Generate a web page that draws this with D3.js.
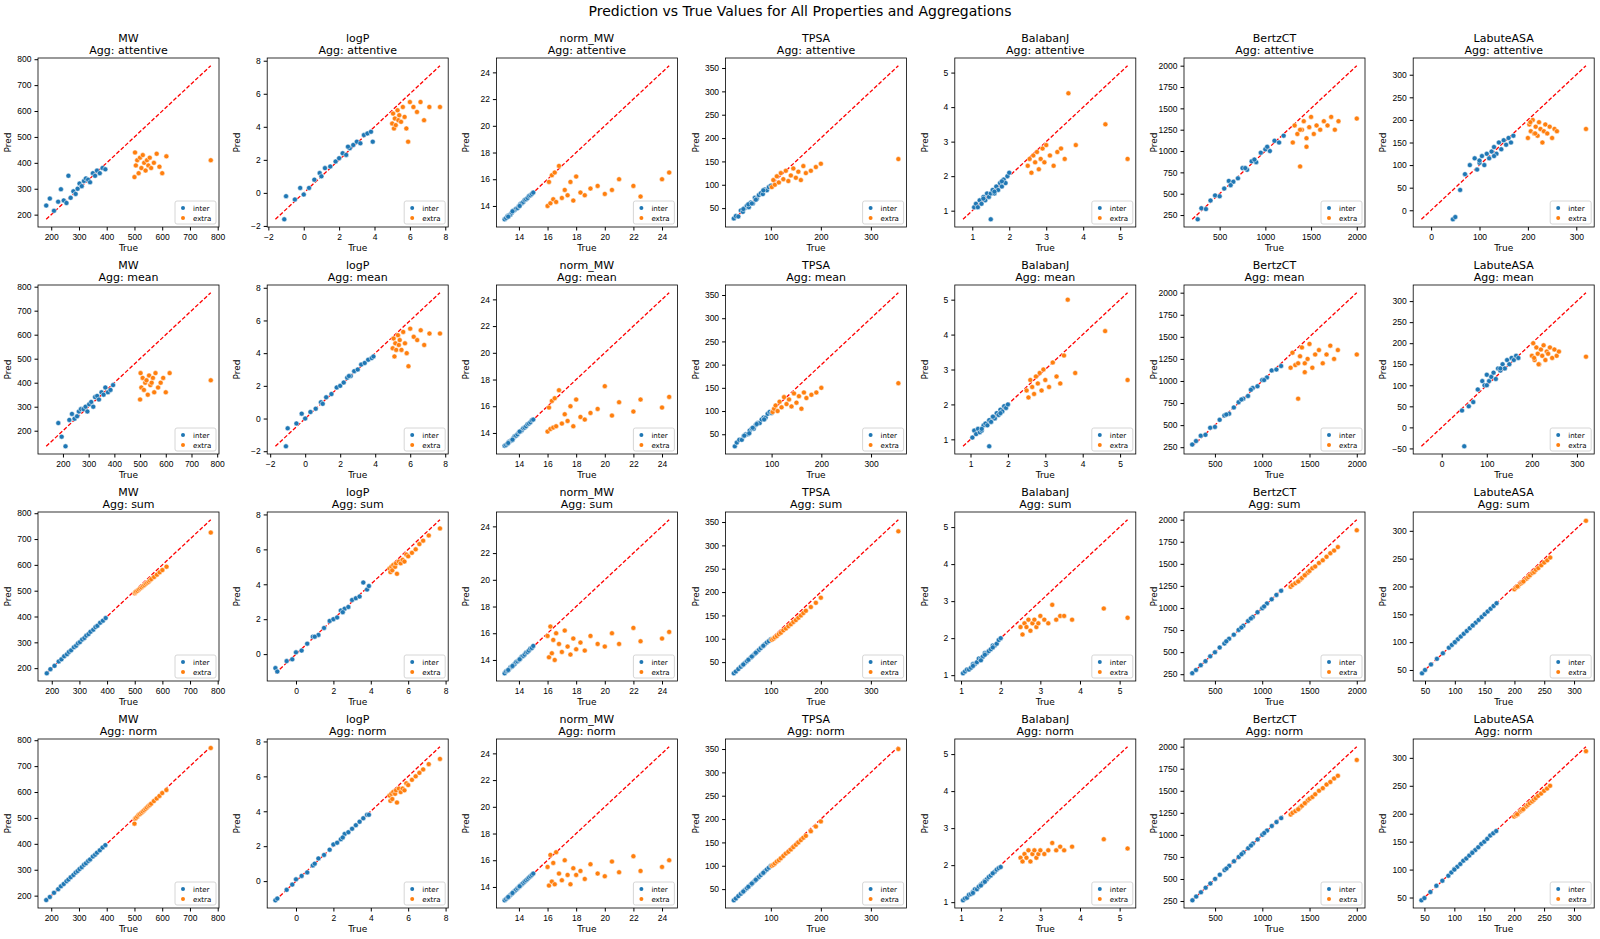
<!DOCTYPE html>
<html><head><meta charset="utf-8">
<script src="https://cdn.jsdelivr.net/npm/d3@7"></script>
<style>body{margin:0;background:#fff;font-family:"DejaVu Sans",sans-serif}</style>
</head><body><svg id="c" width="1600" height="939"></svg>
<script>
// properties and aggregations (columns / rows)
var properties = ["MW","logP","norm_MW","TPSA","BalabanJ","BertzCT","LabuteASA"];
var aggs = ["attentive","mean","sum","norm"];
var yTickSteps = [100,2,2,50,1,250,50];
var xTickSteps = [[100,100,100,100],[2,2,2,2],[2,2,2,2],[100,100,100,100],[1,1,1,1],[500,500,500,500],[100,100,50,50]];

// MW
var mwInterTrue = [182,195,210,225,235,245,255,262,270,280,288,295,302,310,318,325,333,340,350,358,365,375,385,395];
var mwExtraTrue = [500,502,505,510,515,520,525,530,535,540,545,550,555,560,570,580,590,600,615,775];
var mwAttInter = [235,262,215,250,298,255,245,350,265,290,280,300,320,310,330,340,335,325,360,350,370,360,380,375];
var mwAttExtra = [345,440,390,410,360,420,380,430,400,370,410,390,420,380,400,435,385,360,425,410];
var mwMeanInter = [232,175,135,245,270,250,260,280,290,290,300,280,310,320,300,340,345,330,360,350,380,360,370,390];
var mwMeanExtra = [330,440,380,420,370,400,410,350,430,390,400,420,360,440,380,400,420,360,440,410];
var mwSumInter = [180,196,209,226,234,246,254,263,269,281,287,296,301,311,317,326,332,341,349,359,364,376,384,394];
var mwSumExtra = [490,494,497,500,505,509,513,518,522,527,531,535,540,545,553,562,571,580,593,725];
var mwNormInter = [183,195,211,225,236,245,256,262,271,280,289,295,303,310,319,325,334,340,351,358,366,375,386,395];
var mwNormExtra = [478,497,500,505,512,515,520,525,530,535,540,546,550,555,565,575,585,596,608,770];

// logP
var lpInterTrue = [-1.1,-1.0,-0.5,-0.2,0,0.3,0.6,0.9,1.2,1.5,1.8,2.0,2.2,2.4,2.6,2.8,3.0,3.2,3.4,3.6,3.8,3.9,2.5,1.0];
var lpExtraTrue = [5.0,5.05,5.1,5.15,5.2,5.3,5.35,5.4,5.5,5.6,5.7,5.8,5.9,6.0,6.2,6.4,6.6,6.8,7.1,7.7];
var lpAttInter = [-1.6,-0.2,-0.4,0.3,-0.1,0.3,0.8,1.2,1.5,1.6,1.9,2.1,2.4,2.3,2.7,2.9,3.1,3.0,3.5,3.6,3.7,3.1,2.8,1.0];
var lpAttExtra = [4.2,4.8,3.9,4.5,4.1,5.0,4.4,4.7,4.3,5.2,4.6,3.9,3.1,5.5,5.2,4.9,5.5,4.4,5.2,5.2];
var lpMeanInter = [-1.7,-0.6,-0.3,0.3,0,0.4,0.6,1.0,1.3,1.5,1.9,2.0,2.2,2.5,2.6,2.9,3.0,3.3,3.4,3.6,3.7,3.8,2.6,0.9];
var lpMeanExtra = [4.3,4.9,3.8,4.6,4.2,5.1,4.5,4.8,4.2,5.3,4.6,4.0,3.2,5.5,5.0,4.8,5.4,4.5,5.2,5.2];
var lpSumInter = [-0.8,-1.0,-0.4,-0.3,0.1,0.2,0.6,1.0,1.1,1.5,1.9,2.0,2.1,2.5,2.6,2.7,3.1,3.2,3.3,4.1,3.7,3.9,2.4,1.0];
var lpSumExtra = [4.9,4.7,5.0,4.8,5.1,5.0,5.2,4.6,5.3,5.2,5.4,5.3,5.7,5.6,5.8,6.0,6.3,6.5,6.8,7.2];
var lpNormInter = [-1.1,-1.0,-0.5,-0.2,0.1,0.3,0.5,0.9,1.3,1.5,1.8,2.1,2.2,2.4,2.7,2.8,3.0,3.2,3.4,3.6,3.8,3.8,2.5,1.0];
var lpNormExtra = [4.9,4.6,5.0,4.7,5.1,5.0,5.2,4.5,5.3,5.1,5.3,5.2,5.6,5.5,5.8,6.0,6.2,6.4,6.7,7.0];

// norm_MW
var nmInterTrue = [13.0,13.1,13.2,13.3,13.4,13.5,13.6,13.7,13.8,13.9,14.0,14.1,14.2,14.3,14.4,14.5,14.6,14.7,14.8,14.9,15.0,13.25,13.55,14.05];
var nmExtraTrue = [16.0,16.1,16.2,16.3,16.4,16.5,16.6,16.8,17.0,17.2,17.4,17.6,17.8,18.0,18.3,18.6,19.0,19.5,20.0,20.5,21.0,22.0,22.5,24.0,24.5];
var nmAttInter = [13.0,13.1,13.25,13.3,13.35,13.5,13.65,13.7,13.8,13.85,14.0,14.15,14.2,14.3,14.45,14.5,14.6,14.75,14.8,14.9,15.0,13.2,13.6,14.0];
var nmAttExtra = [14.0,15.8,14.2,16.3,14.5,16.5,14.3,17.0,14.6,15.2,14.8,15.8,14.4,16.2,15.0,14.8,15.3,15.5,14.9,15.2,16.0,15.5,14.7,16.0,16.5];
var nmMeanInter = [13.05,13.1,13.2,13.35,13.4,13.45,13.6,13.75,13.8,13.9,14.05,14.1,14.2,14.35,14.4,14.5,14.65,14.7,14.8,14.95,15.0,13.25,13.5,14.1];
var nmMeanExtra = [14.1,15.9,14.3,16.4,14.4,16.6,14.5,17.2,14.7,15.4,14.9,16.0,14.5,16.5,15.2,15.0,15.5,15.8,17.5,15.3,16.3,15.6,16.5,15.9,16.7];
var nmSumInter = [13.0,13.15,13.2,13.3,13.45,13.5,13.6,13.7,13.85,13.9,14.0,14.1,14.25,14.3,14.4,14.55,14.6,14.7,14.85,14.9,15.05,13.25,13.55,14.05];
var nmSumExtra = [15.8,14.2,16.5,14.5,15.5,14.0,16.0,15.2,14.6,16.2,15.0,14.4,15.6,14.8,15.3,14.7,15.8,15.2,15.0,16.0,15.2,16.4,15.4,15.6,16.1];
var nmNormInter = [13.0,13.1,13.2,13.3,13.4,13.5,13.6,13.7,13.8,13.9,14.0,14.1,14.2,14.3,14.4,14.5,14.6,14.7,14.8,14.9,15.0,13.25,13.55,14.05];
var nmNormExtra = [15.5,14.1,16.4,14.4,15.8,14.2,16.6,15.0,14.5,16.0,14.9,14.2,15.4,14.9,15.2,14.6,15.7,15.0,14.8,15.9,15.1,16.3,15.2,15.5,16.0];

// TPSA
var tpInterTrue = [26,30,35,40,44,48,52,56,60,64,68,72,76,80,84,88,92,96,100,55,70,85,45,62];
var tpExtraTrue = [102,105,108,112,116,120,125,130,135,140,145,150,155,160,165,170,180,190,200,355];
var tpAttInter = [28,33,32,45,42,50,55,52,62,60,72,70,78,82,80,90,88,95,98,58,68,88,48,60];
var tpAttExtra = [95,110,100,118,105,125,112,130,108,120,135,115,128,110,140,125,130,138,145,155];
var tpMeanInter = [24,32,38,38,46,50,50,58,62,62,70,74,74,82,86,86,94,98,96,52,72,82,47,64];
var tpMeanExtra = [98,105,112,100,120,108,130,115,125,110,138,118,132,105,140,128,135,140,150,160];
var tpSumInter = [26,30,35,40,44,48,52,56,60,64,68,72,76,80,84,88,92,95,99,55,70,85,45,62];
var tpSumExtra = [98,100,103,106,110,113,118,122,127,131,136,140,145,150,155,160,168,177,188,330];
var tpNormInter = [26,30,35,40,44,48,52,56,60,64,68,72,76,80,84,88,92,96,100,55,70,85,45,62];
var tpNormExtra = [100,102,105,109,112,116,121,126,130,135,140,145,150,155,160,164,174,184,195,350];

// BalabanJ
var bjInterTrue = [1.05,1.1,1.15,1.2,1.25,1.3,1.35,1.4,1.45,1.5,1.55,1.6,1.65,1.7,1.75,1.8,1.85,1.9,1.95,2.0,1.5,1.3,1.6,1.8];
var bjExtraTrue = [2.5,2.55,2.6,2.65,2.7,2.75,2.8,2.85,2.9,2.95,3.0,3.1,3.2,3.3,3.4,3.5,3.6,3.8,4.6,5.2];
var bjAttInter = [1.1,1.2,1.1,1.3,1.2,1.4,1.3,1.5,1.4,1.5,1.6,1.5,1.7,1.6,1.8,1.7,1.9,1.8,2.0,2.1,0.75,1.35,1.55,1.85];
var bjAttExtra = [2.3,2.5,2.1,2.6,2.4,2.7,2.2,2.5,2.8,2.4,2.9,2.6,2.3,2.7,2.8,2.5,4.4,2.9,3.5,2.5];
var bjMeanInter = [1.05,1.25,1.15,1.3,1.2,1.25,1.4,1.45,1.4,1.55,1.5,1.65,1.6,1.75,1.7,1.85,1.8,1.95,1.9,2.0,0.8,1.3,1.65,1.75];
var bjMeanExtra = [2.4,2.2,2.7,2.5,2.3,2.8,2.6,2.9,2.4,3.0,2.7,2.5,3.2,2.8,2.6,3.4,5.0,2.9,4.1,2.7];
var bjSumInter = [1.05,1.1,1.15,1.15,1.2,1.3,1.3,1.35,1.45,1.45,1.5,1.6,1.6,1.65,1.7,1.8,1.8,1.85,1.95,2.0,1.4,1.25,1.55,1.75];
var bjSumExtra = [2.3,2.1,2.4,2.3,2.5,2.2,2.4,2.5,2.3,2.4,2.6,2.5,2.4,2.9,2.5,2.6,2.6,2.5,2.8,2.55];
var bjNormInter = [1.05,1.1,1.12,1.2,1.22,1.28,1.35,1.35,1.42,1.48,1.52,1.58,1.62,1.68,1.72,1.78,1.82,1.88,1.92,1.95,1.45,1.25,1.55,1.78];
var bjNormExtra = [2.2,2.1,2.3,2.2,2.4,2.1,2.3,2.4,2.2,2.3,2.4,2.3,2.4,2.6,2.4,2.5,2.4,2.5,2.7,2.45];

// BertzCT
var bcInterTrue = [260,300,350,400,450,500,550,600,650,700,750,800,850,900,950,1000,1050,1100,1150,1200,620,780,880,1020];
var bcExtraTrue = [1300,1320,1350,1380,1400,1420,1450,1480,1500,1530,1560,1600,1640,1680,1720,1760,1800,2000,1380,1450];
var bcAttInter = [200,330,320,420,480,470,560,650,640,680,800,780,880,870,980,1020,1000,1120,1100,1180,600,800,900,1050];
var bcAttExtra = [1100,1300,1200,820,1250,1350,1150,1280,1400,1200,1300,1250,1350,1300,1400,1250,1350,1380,1250,1050];
var bcMeanInter = [280,320,380,390,470,480,560,610,630,700,760,800,830,920,940,1010,1040,1120,1130,1170,620,790,900,1010];
var bcMeanExtra = [1150,1320,1180,800,1280,1380,1200,1250,1420,1150,1300,1350,1200,1300,1400,1250,1350,1300,1200,1100];
var bcSumInter = [262,298,352,398,452,498,552,598,652,698,752,798,852,898,952,998,1052,1098,1148,1195,622,778,882,1018];
var bcSumExtra = [1240,1260,1280,1300,1320,1340,1370,1400,1420,1450,1470,1510,1540,1580,1620,1650,1690,1880,1300,1370];
var bcNormInter = [258,301,349,401,449,501,549,601,649,701,749,801,849,901,949,1001,1049,1101,1145,1190,618,781,879,1021];
var bcNormExtra = [1230,1250,1270,1290,1310,1330,1360,1390,1410,1430,1460,1500,1530,1570,1600,1640,1670,1850,1290,1360];

// LabuteASA
var laInterTrue = [45,50,60,70,80,90,95,100,105,110,115,120,125,130,135,140,145,150,155,160,165,170,100,130];
var laExtraTrue = [200,203,206,210,213,216,220,223,226,230,233,236,240,245,250,255,260,205,215,320];
var laAttInter = [-20,-15,45,80,100,115,90,105,120,100,125,115,130,140,125,150,135,155,145,160,150,165,110,120];
var laAttExtra = [160,190,175,200,170,185,165,195,180,150,175,190,170,185,160,180,175,195,170,180];
var laMeanInter = [40,-45,50,60,90,110,100,125,110,120,130,115,140,135,150,140,160,150,165,160,170,165,100,140];
var laMeanExtra = [170,200,160,190,175,150,185,170,195,160,180,175,190,165,185,170,180,165,150,168];
var laSumInter = [44,50,60,70,80,90,95,100,105,110,115,120,125,130,135,140,145,150,155,160,165,170,100,130];
var laSumExtra = [195,198,200,205,207,210,214,217,220,224,226,230,233,238,243,247,252,200,209,318];
var laNormInter = [45,49,60,71,80,89,95,101,105,110,116,120,125,131,135,140,146,150,155,161,165,169,100,130];
var laNormExtra = [195,197,199,204,206,209,213,216,219,222,225,228,232,236,241,245,250,199,208,312];

var trues = {
  MW:[mwInterTrue,mwExtraTrue], logP:[lpInterTrue,lpExtraTrue], norm_MW:[nmInterTrue,nmExtraTrue],
  TPSA:[tpInterTrue,tpExtraTrue], BalabanJ:[bjInterTrue,bjExtraTrue], BertzCT:[bcInterTrue,bcExtraTrue], LabuteASA:[laInterTrue,laExtraTrue]
};
var preds = {
  MW:[[mwAttInter,mwAttExtra],[mwMeanInter,mwMeanExtra],[mwSumInter,mwSumExtra],[mwNormInter,mwNormExtra]],
  logP:[[lpAttInter,lpAttExtra],[lpMeanInter,lpMeanExtra],[lpSumInter,lpSumExtra],[lpNormInter,lpNormExtra]],
  norm_MW:[[nmAttInter,nmAttExtra],[nmMeanInter,nmMeanExtra],[nmSumInter,nmSumExtra],[nmNormInter,nmNormExtra]],
  TPSA:[[tpAttInter,tpAttExtra],[tpMeanInter,tpMeanExtra],[tpSumInter,tpSumExtra],[tpNormInter,tpNormExtra]],
  BalabanJ:[[bjAttInter,bjAttExtra],[bjMeanInter,bjMeanExtra],[bjSumInter,bjSumExtra],[bjNormInter,bjNormExtra]],
  BertzCT:[[bcAttInter,bcAttExtra],[bcMeanInter,bcMeanExtra],[bcSumInter,bcSumExtra],[bcNormInter,bcNormExtra]],
  LabuteASA:[[laAttInter,laAttExtra],[laMeanInter,laMeanExtra],[laSumInter,laSumExtra],[laNormInter,laNormExtra]]
};
var colors = ["#1f77b4","#ff7f0e"], names = ["inter","extra"];

var svg = d3.select("#c");
svg.append("text").attr("x",800).attr("y",16).attr("text-anchor","middle")
  .style("font-size","14px").text("Prediction vs True Values for All Properties and Aggregations");

var W = 181, H = 169;
var fmt = function(v){ return (Math.round(v*1000)/1000).toString().replace("-","\u2212"); };
function tickList(lo, hi, st){ return d3.range(Math.ceil(lo/st)*st, hi+1e-9, st); }

properties.forEach(function(p, c){
  aggs.forEach(function(a, r){
    var x0 = 38 + c*229.2, y0 = 58 + r*227;
    var g = svg.append("g").attr("transform","translate("+x0+","+y0+")");
    var pts = [];
    [0,1].forEach(function(s){
      trues[p][s].forEach(function(t,i){ pts.push({t:t, p:preds[p][r][s][i], s:s}); });
    });
    var lo = d3.min(pts, function(d){return Math.min(d.t,d.p);});
    var hi = d3.max(pts, function(d){return Math.max(d.t,d.p);});
    var pad = (hi-lo)*0.05;
    var x = d3.scaleLinear().domain([lo-pad,hi+pad]).range([0,W]);
    var y = d3.scaleLinear().domain([lo-pad,hi+pad]).range([H,0]);
    var xt = tickList(lo-pad, hi+pad, xTickSteps[c][r]);
    var yt = tickList(lo-pad, hi+pad, yTickSteps[c]);
    g.append("g").attr("transform","translate(0,"+H+")")
      .call(d3.axisBottom(x).tickValues(xt).tickFormat(fmt).tickSizeOuter(0).tickSize(3.5))
      .call(function(s){ s.select(".domain").remove(); s.selectAll("text").style("font-size","8.5px").attr("fill","#000"); });
    g.append("g")
      .call(d3.axisLeft(y).tickValues(yt).tickFormat(fmt).tickSizeOuter(0).tickSize(3.5))
      .call(function(s){ s.select(".domain").remove(); s.selectAll("text").style("font-size","8.5px").attr("fill","#000"); });
    g.append("line").attr("x1",x(lo)).attr("y1",y(lo)).attr("x2",x(hi)).attr("y2",y(hi))
      .attr("stroke","red").attr("stroke-width",1.3).attr("stroke-dasharray","4,2");
    g.selectAll("circle.pt").data(pts).enter().append("circle")
      .attr("cx",function(d){return x(d.t);}).attr("cy",function(d){return y(d.p);})
      .attr("r",2.5).attr("fill",function(d){return colors[d.s];})
      .attr("stroke","#fff").attr("stroke-width",0.5);
    g.append("rect").attr("width",W).attr("height",H).attr("fill","none").attr("stroke","#000").attr("stroke-width",0.8);
    g.append("text").attr("x",W/2).attr("y",-16).attr("text-anchor","middle").style("font-size","11px").text(p);
    g.append("text").attr("x",W/2).attr("y",-4).attr("text-anchor","middle").style("font-size","11px").text("Agg: "+a);
    g.append("text").attr("x",W/2).attr("y",H+24).attr("text-anchor","middle").style("font-size","9px").text("True");
    g.append("text").attr("transform","translate(-27,"+(H/2)+") rotate(-90)").attr("text-anchor","middle").style("font-size","9px").text("Pred");
    var lg = g.append("g").attr("transform","translate("+(W-44)+","+(H-26)+")");
    lg.append("rect").attr("width",41).attr("height",23).attr("rx",2).attr("fill","#fff").attr("fill-opacity",0.8).attr("stroke","#ccc").attr("stroke-width",0.8);
    names.forEach(function(n,i){
      lg.append("circle").attr("cx",8).attr("cy",7+i*10).attr("r",2).attr("fill",colors[i]);
      lg.append("text").attr("x",18).attr("y",9.5+i*10).style("font-size","7px").text(n);
    });
  });
});
</script></body></html>
